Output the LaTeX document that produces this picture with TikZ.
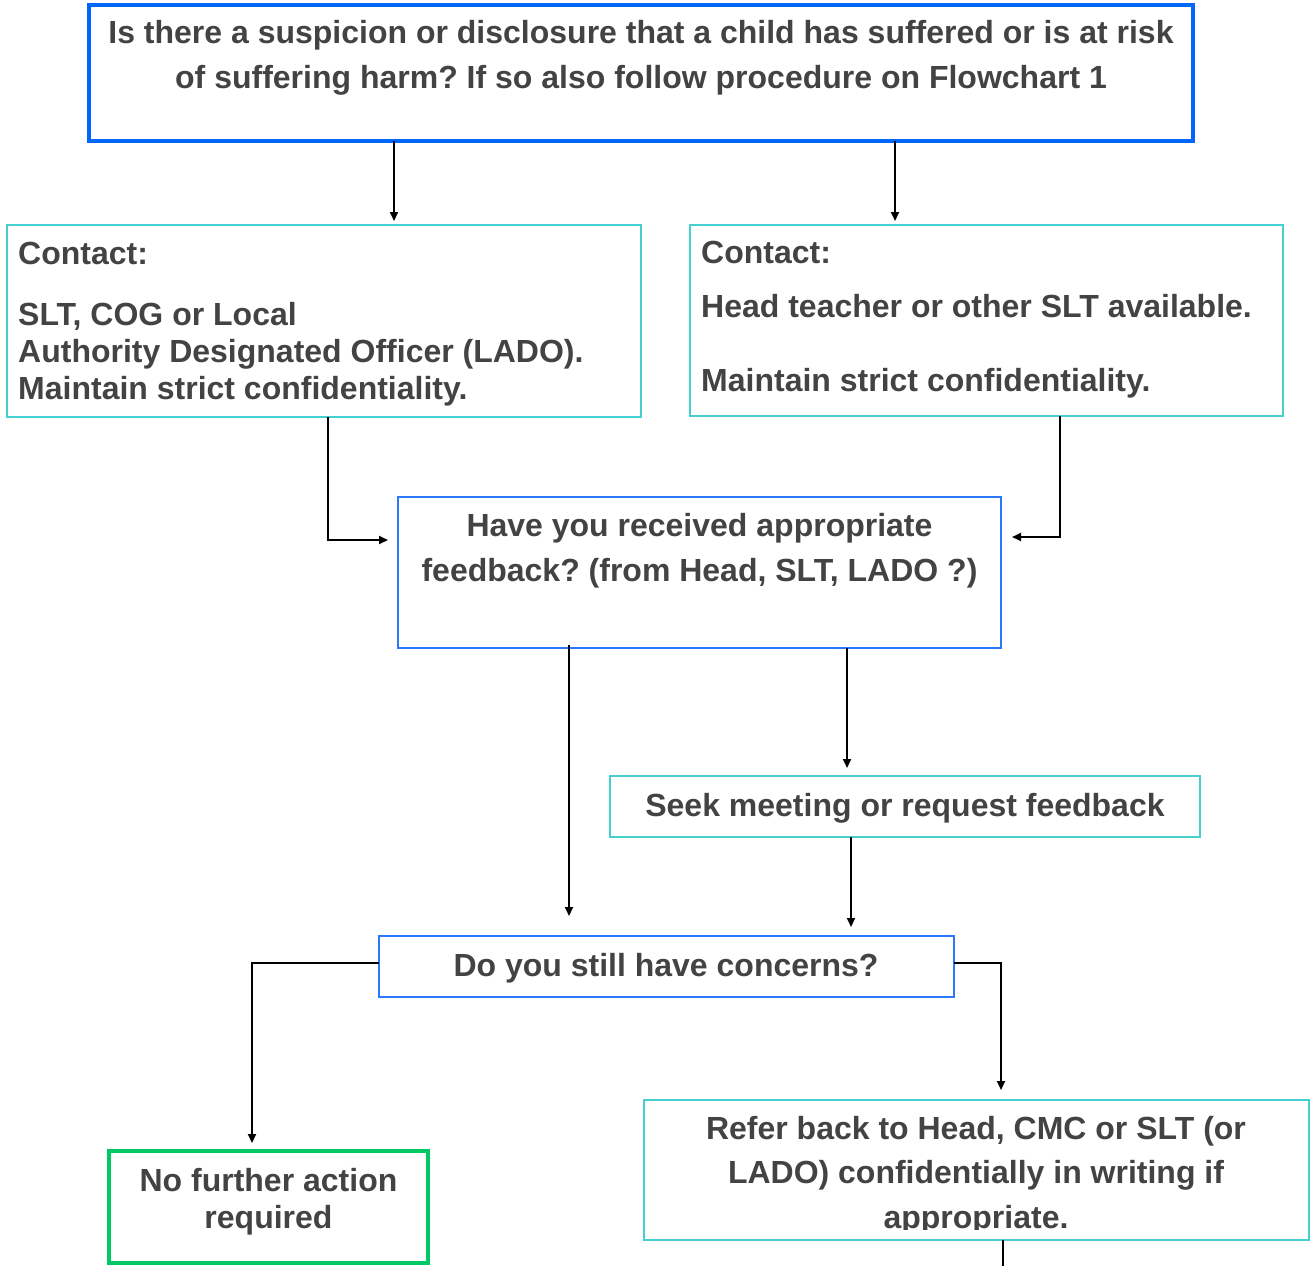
\documentclass[tikz,border=0pt]{standalone}
\usepackage{fontspec}
\setmainfont{Liberation Sans}
\usetikzlibrary{arrows.meta}
\definecolor{txt}{HTML}{434343}
\definecolor{topblue}{HTML}{0066FF}
\definecolor{midblue}{HTML}{2B78FF}
\definecolor{cyanb}{HTML}{45CFCF}
\definecolor{greenb}{HTML}{00C864}
\frenchspacing
\begin{document}
\begin{tikzpicture}[x=1pt,y=-1pt,
  box/.style={rectangle, inner sep=0pt, outer sep=0pt, anchor=north west},
  thickblue/.style={box, draw=topblue, line width=4pt},
  thinblue/.style={box, draw=midblue, line width=2pt},
  cyanbox/.style={box, draw=cyanb, line width=2pt},
  greenbox/.style={box, draw=greenb, line width=4pt},
  lbl/.style={inner sep=0pt, text=txt, font=\bfseries\fontsize{32}{37}\selectfont},
  arr/.style={draw=black, line width=2pt, -{Triangle[width=8pt,length=9pt]}}
]
\useasboundingbox (0,0) rectangle (1311,1266);
% boxes
\node[thickblue, minimum width=1104pt, minimum height=136pt] (top) at (89,5) {};
\node[cyanbox, minimum width=634pt, minimum height=192pt] (lc) at (7,225) {};
\node[cyanbox, minimum width=593pt, minimum height=191pt] (rc) at (690,225) {};
\node[thinblue, minimum width=603pt, minimum height=151pt] (fb) at (398,497) {};
\node[cyanbox, minimum width=590pt, minimum height=61pt] (seek) at (610,776) {};
\node[thinblue, minimum width=575pt, minimum height=61pt] (conc) at (379,936) {};
\node[greenbox, minimum width=319pt, minimum height=112pt] (nfa) at (109,1151) {};
\node[cyanbox, minimum width=665pt, minimum height=140pt] (refer) at (644,1100) {};
% texts
\node[lbl, align=center, font=\bfseries\fontsize{32}{45}\selectfont] (toptxt) at (641,57.5)
  {Is there a suspicion or disclosure that a child has suffered or is at risk\\of suffering harm? If so also follow procedure on Flowchart 1};
\node[lbl, align=left, anchor=west] (lctxt) at (18,324.5)
  {Contact:\\[24pt]SLT, COG or Local\\Authority Designated Officer (LADO).\\Maintain strict confidentiality.};
\node[lbl, align=left, anchor=west] (rctxt) at (701,320)
  {Contact:\\[17pt]Head teacher or other SLT available.\\[37pt]Maintain strict confidentiality.};
\node[lbl, align=center, font=\bfseries\fontsize{32}{45}\selectfont] (fbtxt) at (699.5,550.5)
  {Have you received appropriate\\feedback? (from Head, SLT, LADO ?)};
\node[lbl] (seektxt) at (905,808) {Seek meeting or request feedback};
\node[lbl] (conctxt) at (666,968) {Do you still have concerns?};
\node[lbl, align=center] (nfatxt) at (268.5,1201.5) {No further action\\required};
\begin{scope}
\clip (644,1100) rectangle (1309,1229);
\node[lbl, align=center, font=\bfseries\fontsize{32}{44.5}\selectfont] (refertxt) at (976,1175.5)
  {Refer back to Head, CMC or SLT (or\\LADO) confidentially in writing if\\appropriate.};
\end{scope}
% connectors
\coordinate (out) at (1003,1266);
\draw[arr, shorten >=4pt] (394,0 |- top.south) -- (394,0 |- lc.north);
\draw[arr, shorten >=4pt] (895,0 |- top.south) -- (895,0 |- rc.north);
\draw[arr, shorten >=10pt] (328,0 |- lc.south) |- (fb.west |- 0,540);
\draw[arr, shorten >=11pt] (1060,0 |- rc.south) |- (fb.east |- 0,537);
\draw[arr, shorten >=20pt] (569,645) -- (569,0 |- conc.north);
\draw[arr, shorten >=8pt] (847,0 |- fb.south) -- (847,0 |- seek.north);
\draw[arr, shorten >=9pt] (851,0 |- seek.south) -- (851,0 |- conc.north);
\draw[arr, shorten >=8pt] (conc.west |- 0,963) -| (252,0 |- nfa.north);
\draw[arr, shorten >=10pt] (conc.east |- 0,963) -| (1001,0 |- refer.north);
\draw[line width=2pt] (1003,0 |- refer.south) -- (out);
\end{tikzpicture}
\end{document}
